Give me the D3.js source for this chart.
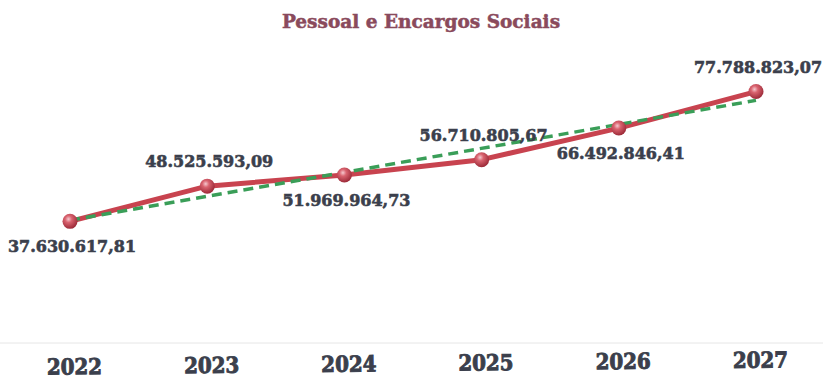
<!DOCTYPE html>
<html>
<head>
<meta charset="utf-8">
<script src="https://cdn.jsdelivr.net/npm/d3@7"></script>
<style>
  html, body { margin: 0; padding: 0; background: #ffffff; }
  svg { display: block; }
</style>
</head>
<body>
<svg id="chart" width="823" height="379"></svg>
<script>
const title = "Pessoal e Encargos Sociais";
const years = ["2022", "2023", "2024", "2025", "2026", "2027"];
const values = [37630617.81, 48525593.09, 51969964.73, 56710805.67, 66492846.41, 77788823.07];
const valueLabels = ["37.630.617,81", "48.525.593,09", "51.969.964,73", "56.710.805,67", "66.492.846,41", "77.788.823,07"];

const svg = d3.select("#chart");
const W = 823, H = 379;

const x = d3.scalePoint().domain(years).range([70, 756]);
const y = d3.scaleLinear().domain([0, 80e6]).range([343, 84.4]);

// gradient for sphere markers
const defs = svg.append("defs");
const grad = defs.append("radialGradient").attr("id", "ball")
  .attr("cx", "40%").attr("cy", "35%").attr("r", "65%");
grad.append("stop").attr("offset", "0%").attr("stop-color", "#f6c9cf");
grad.append("stop").attr("offset", "35%").attr("stop-color", "#d9636f");
grad.append("stop").attr("offset", "100%").attr("stop-color", "#9c2a38");

// title
svg.append("text")
  .attr("x", 421).attr("y", 28)
  .attr("text-anchor", "middle")
  .attr("font-family", "DejaVu Serif")
  .attr("font-weight", "bold")
  .attr("font-size", 18.5)
  .attr("fill", "#8a4a5c")
  .attr("stroke", "#8a4a5c").attr("stroke-width", 0.5)
  .text(title);

// baseline axis line
svg.append("line")
  .attr("x1", 0).attr("x2", W)
  .attr("y1", y(0)).attr("y2", y(0))
  .attr("stroke", "#e6e6e6").attr("stroke-width", 1);

// year labels (x axis)
const xAxis = d3.axisBottom(x).tickSize(0).tickPadding(0);
const gx = svg.append("g")
  .attr("transform", `rotate(-0.55, 415, 371) translate(4, 355)`)
  .call(xAxis);
gx.select(".domain").remove();
gx.selectAll("text")
  .attr("dy", 0).attr("y", 16)
  .attr("font-family", "DejaVu Serif")
  .attr("font-weight", "bold")
  .attr("font-stretch", "condensed")
  .attr("font-size", 22)
  .attr("fill", "#3b3f4c")
  .attr("stroke", "#3b3f4c").attr("stroke-width", 0.9);

// data line
const pts = years.map((yr, i) => [x(yr), y(values[i])]);
svg.append("path")
  .attr("d", d3.line()(pts))
  .attr("fill", "none")
  .attr("stroke", "#c8434f")
  .attr("stroke-width", 5)
  .attr("stroke-linejoin", "round");

// linear trend line (least squares on the data)
const n = values.length;
const idx = d3.range(n);
const mx = d3.mean(idx), my = d3.mean(values);
const slope = d3.sum(idx, i => (i - mx) * (values[i] - my)) / d3.sum(idx, i => (i - mx) ** 2);
const icpt = my - slope * mx;
svg.append("line")
  .attr("x1", x(years[0])).attr("y1", y(icpt))
  .attr("x2", x(years[n - 1])).attr("y2", y(icpt + slope * (n - 1)))
  .attr("stroke", "#3a9e58")
  .attr("stroke-width", 3.5)
  .attr("stroke-dasharray", "10,6");

// markers
svg.selectAll("circle.pt").data(years).join("circle")
  .attr("class", "pt")
  .attr("cx", d => x(d))
  .attr("cy", (d, i) => y(values[i]))
  .attr("r", 7.5)
  .attr("fill", "url(#ball)");

// value labels: alternate below / above
svg.selectAll("text.val").data(years).join("text")
  .attr("class", "val")
  .attr("x", d => x(d) + 2)
  .attr("y", (d, i) => y(values[i]) + (i % 2 === 0 ? 31 : -19))
  .attr("text-anchor", "middle")
  .attr("font-family", "DejaVu Serif")
  .attr("font-weight", "bold")
  .attr("font-size", 16)
  .attr("fill", "#3b3f4c")
  .attr("stroke", "#3b3f4c").attr("stroke-width", 0.6)
  .text((d, i) => valueLabels[i]);
</script>
</body>
</html>
